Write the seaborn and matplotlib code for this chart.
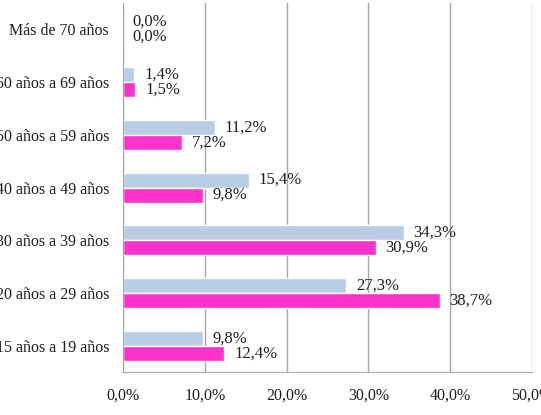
import seaborn as sns
import matplotlib.pyplot as plt
import pandas as pd

# age groups, top to bottom as in the chart
grupos = ["Más de 70 años", "60 años a 69 años", "50 años a 59 años",
          "40 años a 49 años", "30 años a 39 años", "20 años a 29 años",
          "15 años a 19 años"]
serie_a = [0.0, 1.4, 11.2, 15.4, 34.3, 27.3, 9.8]   # light blue
serie_b = [0.0, 1.5, 7.2, 9.8, 30.9, 38.7, 12.4]    # magenta
series = ["A", "B"]
colores = ["#B9CDE5", "#FF33CC"]
xticks = [0, 10, 20, 30, 40, 50]

df = pd.DataFrame({
    "grupo": grupos * 2,
    "valor": serie_a + serie_b,
    "serie": [series[0]] * len(grupos) + [series[1]] * len(grupos),
})

sns.set_style("white")
plt.rcParams['font.family'] = ['Liberation Serif', 'DejaVu Serif']

fig = plt.figure(figsize=(5.41, 4.15), dpi=100)
ax = fig.add_axes([0.2274, 0.1036, 0.756, 0.889])

sns.barplot(data=df, x="valor", y="grupo", hue="serie", order=grupos,
            hue_order=series, palette=colores, orient="h", width=0.57,
            ax=ax, legend=False, saturation=1)

fmt = lambda v: ("%.1f%%" % v).replace(".", ",")
for cont in ax.containers:
    ax.bar_label(cont, labels=[fmt(v) for v in cont.datavalues],
                 padding=7, fontsize=12, color="#1e1e1e")

ax.set_xlim(0, 50)
ax.set_xticks(xticks)
ax.set_xticklabels([fmt(t) for t in xticks], fontsize=11.5, color="#1e1e1e")
ax.tick_params(axis="x", length=4, color="#a0a0a0", pad=7, direction="out")
ax.tick_params(axis="y", length=0, pad=10, labelsize=11.5, labelcolor="#1e1e1e")
ax.set_xlabel("")
ax.set_ylabel("")
ax.grid(axis="x", color="#a6a6a6", linewidth=1)
ax.set_axisbelow(True)
for s in ["top", "right"]:
    ax.spines[s].set_visible(False)
ax.spines["left"].set_color("#a6a6a6")
ax.spines["bottom"].set_color("#a6a6a6")

fig.savefig("out.png", dpi=100)
